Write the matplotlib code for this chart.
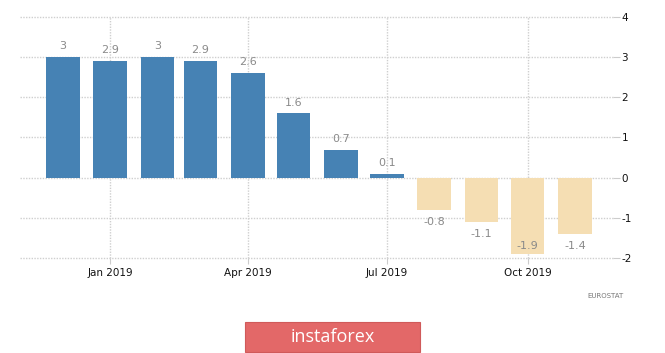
import datetime as dt
import matplotlib
matplotlib.use("Agg")
import matplotlib.pyplot as plt
import matplotlib.dates as mdates
from matplotlib.patches import Rectangle

months = ["2018-12", "2019-01", "2019-02", "2019-03", "2019-04", "2019-05",
          "2019-06", "2019-07", "2019-08", "2019-09", "2019-10", "2019-11"]
values = [3, 2.9, 3, 2.9, 2.6, 1.6, 0.7, 0.1, -0.8, -1.1, -1.9, -1.4]
labels = ["3", "2.9", "3", "2.9", "2.6", "1.6", "0.7", "0.1", "-0.8", "-1.1", "-1.9", "-1.4"]
tick_months = ["2019-01", "2019-04", "2019-07", "2019-10"]
tick_labels = ["Jan 2019", "Apr 2019", "Jul 2019", "Oct 2019"]
yticks = [-2, -1, 0, 1, 2, 3, 4]

plt.rcParams["axes.unicode_minus"] = False

def to_date(s):
    y, m = s.split("-")
    return dt.date(int(y), int(m), 1)

dates = [to_date(m) for m in months]
x = mdates.date2num(dates)

fig = plt.figure(figsize=(6.65, 3.53), dpi=100)
ax = fig.add_axes([0.030, 0.269, 0.892, 0.683])

colors = ["#4682b4" if v >= 0 else "#f5deb3" for v in values]
ax.bar(x, values, width=22, color=colors, zorder=3)

for xi, v, lab in zip(x, values, labels):
    if v >= 0:
        yt = v + 0.27
    else:
        yt = max(v - 0.3, -1.7)
    ax.text(xi, yt, lab, ha="center", va="center", fontsize=8, color="#8a8a8a", zorder=4)

ax.set_xlim(mdates.date2num(dt.date(2018, 11, 3)), mdates.date2num(dt.date(2019, 11, 26)))
ax.set_ylim(-2, 4)
ax.set_xticks(mdates.date2num([to_date(m) for m in tick_months]))
ax.set_xticklabels(tick_labels)
ax.set_yticks(yticks)
ax.yaxis.tick_right()

for s in ax.spines.values():
    s.set_visible(False)
ax.grid(True, color="#cfcfcf", linestyle=(0, (1, 1)), linewidth=1.0, zorder=0)
for gl in ax.get_ygridlines() + ax.get_xgridlines():
    gl.set_clip_on(False)
ax.tick_params(axis="y", length=5, color="#cccccc", labelsize=7.5, labelcolor="#111111", pad=1)
ax.tick_params(axis="x", length=4, color="#cccccc", labelsize=7.5, labelcolor="#111111", pad=3)

fig.text(0.938, 0.162, "EUROSTAT", ha="right", va="center", fontsize=5, color="#777777")

fig.patches.append(Rectangle((0.368, 0.003), 0.264, 0.085, transform=fig.transFigure,
                             facecolor="#e36868", edgecolor="#d05a5a", linewidth=0.8))
fig.text(0.5, 0.046, "instaforex", ha="center", va="center", fontsize=13, color="white",
         family=["Open Sans", "DejaVu Sans"])

fig.savefig("out.png", dpi=100)
